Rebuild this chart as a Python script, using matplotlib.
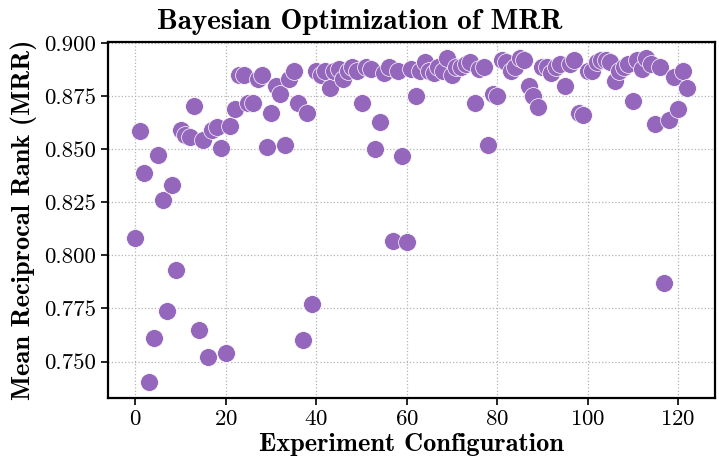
import matplotlib
matplotlib.use("Agg")
import matplotlib.pyplot as plt
from matplotlib.ticker import FormatStrFormatter, MultipleLocator

plt.rcParams["font.family"] = "serif"
plt.rcParams["font.serif"] = ["cmr10", "DejaVu Serif"]
plt.rcParams["mathtext.fontset"] = "cm"
plt.rcParams["axes.formatter.use_mathtext"] = True

# MRR per experiment configuration
mrr_0_39 = [0.808, 0.8585, 0.839, 0.7405, 0.761, 0.8475, 0.826, 0.774, 0.833, 0.793,
            0.859, 0.857, 0.856, 0.8705, 0.765, 0.8545, 0.752, 0.859, 0.8605, 0.8505,
            0.754, 0.861, 0.869, 0.885, 0.885, 0.872, 0.872, 0.883, 0.885, 0.851,
            0.867, 0.880, 0.876, 0.852, 0.883, 0.887, 0.872, 0.760, 0.867, 0.777]
mrr_40_79 = [0.887, 0.885, 0.887, 0.879, 0.887, 0.888, 0.883, 0.887, 0.889, 0.887,
             0.872, 0.889, 0.888, 0.850, 0.863, 0.886, 0.889, 0.807, 0.887, 0.847,
             0.8065, 0.888, 0.875, 0.887, 0.891, 0.887, 0.886, 0.889, 0.887, 0.893,
             0.885, 0.889, 0.889, 0.890, 0.891, 0.872, 0.888, 0.889, 0.852, 0.876]
mrr_80_122 = [0.875, 0.892, 0.891, 0.887, 0.889, 0.893, 0.892, 0.880, 0.875, 0.870,
              0.889, 0.889, 0.886, 0.889, 0.890, 0.880, 0.890, 0.892, 0.867, 0.866,
              0.887, 0.887, 0.891, 0.892, 0.892, 0.891, 0.882, 0.887, 0.889, 0.890,
              0.873, 0.892, 0.888, 0.893, 0.890, 0.862, 0.889, 0.787, 0.864, 0.884,
              0.869, 0.887, 0.879]
mrr = mrr_0_39 + mrr_40_79 + mrr_80_122
configs = list(range(len(mrr)))

fig = plt.figure(figsize=(7.19, 4.61), dpi=100)
ax = fig.add_axes([0.150, 0.137, 0.844, 0.772])

ax.scatter(configs, mrr, s=165, color="#9467bd", edgecolors="white",
           linewidths=0.5, zorder=3)

ax.grid(True, linestyle=":", color="0.7", linewidth=0.9)
ax.yaxis.set_major_locator(MultipleLocator(0.025))
ax.yaxis.set_major_formatter(FormatStrFormatter("%.3f"))
ax.set_xticks([0, 20, 40, 60, 80, 100, 120])
for s in ax.spines.values():
    s.set_linewidth(1.6)
ax.tick_params(labelsize=16.5, width=1.2, length=5)

# title is centred on the whole figure, not on the axes
fig.suptitle("Bayesian Optimization of MRR", fontfamily="cmb10", fontsize=21, y=0.98)
ax.set_xlabel("Experiment Configuration", fontfamily="cmb10", fontsize=19, labelpad=3)
ax.set_ylabel("Mean Reciprocal Rank (MRR)", fontfamily="cmb10", fontsize=19, labelpad=5)

fig.savefig("out.png", dpi=100)
